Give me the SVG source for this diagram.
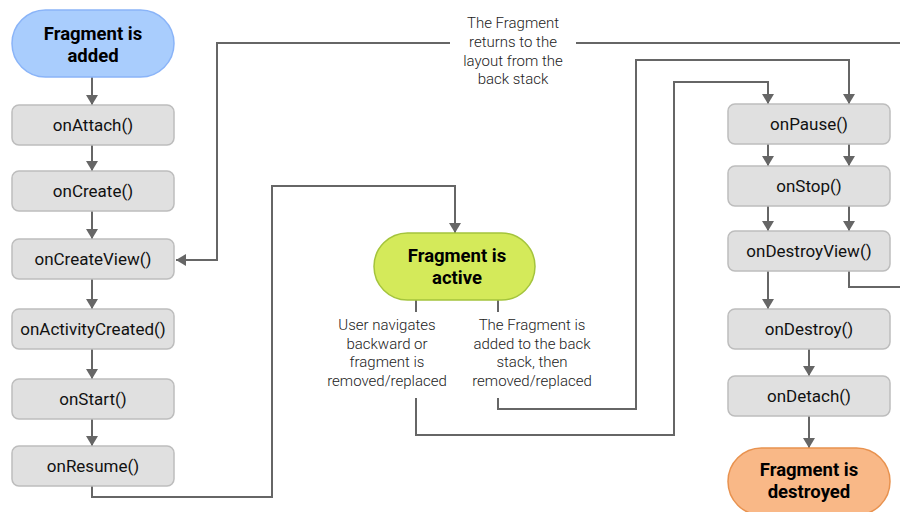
<svg xmlns="http://www.w3.org/2000/svg" width="900" height="512" viewBox="0 0 900 512">
  <defs>
    <marker id="arrow" viewBox="0 0 10 12" refX="10" refY="6" markerWidth="10" markerHeight="12" markerUnits="userSpaceOnUse" orient="auto">
      <path d="M0,0 L10,6 L0,12 Z" fill="#666666"/>
    </marker>
    <style>
      .box { fill: #e0e0e0; stroke: #bdbdbd; stroke-width: 1.5; }
      .label { font-family: Roboto, "Liberation Sans", sans-serif; font-size: 17px; fill: #111111; text-anchor: middle; }
      .title { font-family: Roboto, "Liberation Sans", sans-serif; font-size: 18.5px; font-weight: bold; fill: #000000; text-anchor: middle; }
      .note { font-family: Roboto, "Liberation Sans", sans-serif; font-size: 15px; font-weight: 300; fill: #222222; text-anchor: middle; }
      .line { fill: none; stroke: #666666; stroke-width: 2; }
      .arr { fill: none; stroke: #666666; stroke-width: 2; marker-end: url(#arrow); }
    </style>
  </defs>
  <rect width="900" height="512" fill="#ffffff"/>

  <g id="connectors">
    <!-- left column -->
    <path class="arr" d="M92,77 V105"/>
    <path class="arr" d="M92,145 V171"/>
    <path class="arr" d="M92,211 V239"/>
    <path class="arr" d="M92,279 V309"/>
    <path class="arr" d="M92,349 V379"/>
    <path class="arr" d="M92,419 V446"/>
    <!-- onResume to active -->
    <path class="arr" d="M92,486 V497 H272 V186 H455 V233"/>
    <!-- back stack return to onCreateView -->
    <path class="line" d="M900,43 H576"/>
    <path class="arr" d="M450,43 H217 V260 H176"/>
    <!-- active stubs -->
    <path class="line" d="M416,300 V312"/>
    <path class="line" d="M498,300 V312"/>
    <!-- removed/replaced path -->
    <path class="arr" d="M416,398 V435 H674 V82 H768 V104"/>
    <!-- back stack path -->
    <path class="arr" d="M498,398 V409 H636 V60 H849 V104"/>
    <!-- right column -->
    <path class="arr" d="M768,144 V166"/>
    <path class="arr" d="M849,144 V166"/>
    <path class="arr" d="M768,206 V231"/>
    <path class="arr" d="M849,206 V231"/>
    <path class="arr" d="M768,271 V309"/>
    <path class="line" d="M849,271 V287 H900"/>
    <path class="arr" d="M809,349 V376"/>
    <path class="arr" d="M809,416 V448"/>
  </g>

  <g id="fragment-added">
    <rect x="12" y="10" width="162" height="67" rx="33.5" fill="#a9cdfd" stroke="#8ab4f8" stroke-width="1.5"/>
    <text class="title" x="93" y="40">Fragment is</text>
    <text class="title" x="93" y="62">added</text>
  </g>
  <g id="onAttach">
    <rect class="box" x="12" y="105" width="162" height="40" rx="7"/>
    <text class="label" x="93" y="131">onAttach()</text>
  </g>
  <g id="onCreate">
    <rect class="box" x="12" y="171" width="162" height="40" rx="7"/>
    <text class="label" x="93" y="197">onCreate()</text>
  </g>
  <g id="onCreateView">
    <rect class="box" x="12" y="239" width="162" height="40" rx="7"/>
    <text class="label" x="93" y="265">onCreateView()</text>
  </g>
  <g id="onActivityCreated">
    <rect class="box" x="12" y="309" width="162" height="40" rx="7"/>
    <text class="label" x="93" y="335">onActivityCreated()</text>
  </g>
  <g id="onStart">
    <rect class="box" x="12" y="379" width="162" height="40" rx="7"/>
    <text class="label" x="93" y="405">onStart()</text>
  </g>
  <g id="onResume">
    <rect class="box" x="12" y="446" width="162" height="40" rx="7"/>
    <text class="label" x="93" y="472">onResume()</text>
  </g>

  <g id="back-stack-note">
    <text class="note" x="513" y="28">The Fragment</text>
    <text class="note" x="513" y="47">returns to the</text>
    <text class="note" x="513" y="66">layout from the</text>
    <text class="note" x="513" y="84">back stack</text>
  </g>

  <g id="fragment-active">
    <rect x="374" y="233" width="161" height="67" rx="33.5" fill="#d4ea5a" stroke="#a4c43c" stroke-width="1.5"/>
    <text class="title" x="457" y="262">Fragment is</text>
    <text class="title" x="457" y="284">active</text>
  </g>

  <g id="navigate-note">
    <text class="note" x="387" y="330">User navigates</text>
    <text class="note" x="387" y="349">backward or</text>
    <text class="note" x="387" y="367">fragment is</text>
    <text class="note" x="387" y="386">removed/replaced</text>
  </g>
  <g id="added-note">
    <text class="note" x="532" y="330">The Fragment is</text>
    <text class="note" x="532" y="349">added to the back</text>
    <text class="note" x="532" y="367">stack, then</text>
    <text class="note" x="532" y="386">removed/replaced</text>
  </g>

  <g id="onPause">
    <rect class="box" x="728" y="104" width="162" height="40" rx="7"/>
    <text class="label" x="809" y="130">onPause()</text>
  </g>
  <g id="onStop">
    <rect class="box" x="728" y="166" width="162" height="40" rx="7"/>
    <text class="label" x="809" y="192">onStop()</text>
  </g>
  <g id="onDestroyView">
    <rect class="box" x="728" y="231" width="162" height="40" rx="7"/>
    <text class="label" x="809" y="257">onDestroyView()</text>
  </g>
  <g id="onDestroy">
    <rect class="box" x="728" y="309" width="162" height="40" rx="7"/>
    <text class="label" x="809" y="335">onDestroy()</text>
  </g>
  <g id="onDetach">
    <rect class="box" x="728" y="376" width="162" height="40" rx="7"/>
    <text class="label" x="809" y="402">onDetach()</text>
  </g>
  <g id="fragment-destroyed">
    <rect x="728" y="448" width="162" height="67" rx="33.5" fill="#f9b887" stroke="#e8924f" stroke-width="1.5"/>
    <text class="title" x="809" y="476">Fragment is</text>
    <text class="title" x="809" y="498">destroyed</text>
  </g>
</svg>
